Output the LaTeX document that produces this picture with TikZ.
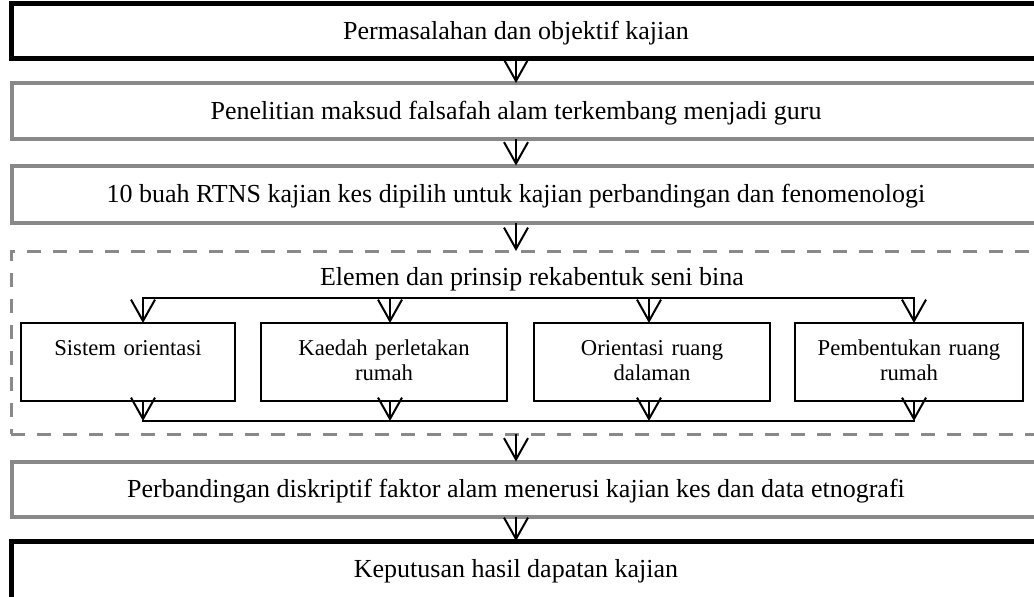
\documentclass[tikz,border=0pt]{standalone}
\usepackage{fontspec}
\setmainfont{Liberation Serif}
\usetikzlibrary{positioning, calc, arrows.meta}
\definecolor{framegray}{RGB}{137,137,137}

\begin{document}
\begin{tikzpicture}[x=0.75pt, y=-0.75pt,
    mainbox/.style={rectangle, outer sep=0pt, inner sep=0pt, minimum width=756.75pt,
        text height=14pt, text depth=2pt, font=\fontsize{19.5}{22}\selectfont},
    subbox/.style={rectangle, draw, line width=1.5pt, outer sep=0pt, minimum height=58.5pt,
        text width=150pt, align=center, text height=10.5pt, text depth=21pt,
        font=\fontsize{17}{18.75}\selectfont},
    groupbox/.style={rectangle, draw=framegray, line width=2.25pt, dash pattern=on 10.5pt off 9pt,
        outer sep=0pt, minimum width=781pt, minimum height=137.25pt},
    thickframe/.style={line width=3.75pt},
    grayframe/.style={line width=3pt, draw=framegray},
    link/.style={line width=1.5pt, line cap=rect},
    flow/.style={line width=1.5pt, -{Straight Barb[length=16pt, width=18pt]}}
]
\useasboundingbox (0,0) rectangle (1034,596);
\clip (0,0) rectangle (1034,596);

% main steps
\node[mainbox, minimum height=40.65pt] (problem) at (516,31) {Permasalahan dan objektif kajian};
\node[mainbox, minimum height=42pt] (research) at (516,111) {Penelitian maksud falsafah alam terkembang menjadi guru};
\node[mainbox, minimum height=42.75pt] (cases) at (516,194) {10 buah RTNS kajian kes dipilih untuk kajian perbandingan dan fenomenologi};
\node[mainbox, minimum height=41.25pt] (compare) at (516,489) {Perbandingan diskriptif faktor alam menerusi kajian kes dan data etnografi};
\node[mainbox, minimum height=42pt] (decision) at (516,569) {Keputusan hasil dapatan kajian};

% frames (open to the right)
\draw[thickframe] ([xshift=30pt]problem.north east) -| (problem.south west) -- ([xshift=30pt]problem.south east);
\foreach \b in {research, cases, compare}
    \draw[grayframe] ([xshift=30pt]\b.north east) -| (\b.south west) -- ([xshift=30pt]\b.south east);
\draw[thickframe] ([xshift=30pt]decision.north east) -| ([yshift=-20pt]decision.south west);

% group of design elements
\node[groupbox] (elements) at (532,342.5) {};
\node[anchor=base, font=\fontsize{19.5}{22}\selectfont] (elemtitle) at (532,285) {Elemen dan prinsip rekabentuk seni bina};

\node[subbox, minimum width=160.5pt] (orient) at (128,362) {Sistem orientasi};
\node[subbox, minimum width=184.5pt] (layout) at (384,362) {Kaedah perletakan\\rumah};
\node[subbox, minimum width=177pt] (interior) at (652,362) {Orientasi ruang\\dalaman};
\node[subbox, minimum width=171pt] (form) at (909,362) {Pembentukan ruang\\rumah};

\coordinate (splitA) at (143,298);
\coordinate (splitB) at (390,298);
\coordinate (splitC) at (649,298);
\coordinate (splitD) at (914,298);
\coordinate (joinA) at (143,421);
\coordinate (joinB) at (390,421);
\coordinate (joinC) at (649,421);
\coordinate (joinD) at (914,421);

\draw[link] (splitA) -- (splitD);
\draw[link] (joinA) -- (joinD);
\foreach \s/\b in {A/orient, B/layout, C/interior, D/form} {
    \draw[flow] (split\s) -- (split\s |- \b.north);
    \draw[flow] (join\s |- \b.south) -- (join\s);
}

% arrows between steps
\draw[flow] (problem) -- (research);
\draw[flow] (research) -- (cases);
\draw[flow] (cases) -- (cases.south |- elements.north);
\draw[flow] (compare.north |- elements.south) -- (compare);
\draw[flow] (compare) -- (decision);

\end{tikzpicture}
\end{document}
